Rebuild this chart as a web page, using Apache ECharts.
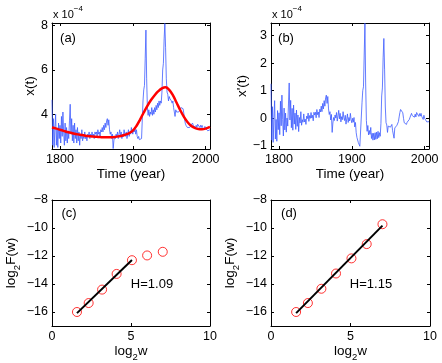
<!DOCTYPE html>
<html>
<head>
<meta charset="utf-8">
<script src="https://cdn.jsdelivr.net/npm/echarts@6/dist/echarts.min.js"></script>
<style>
  html, body { margin: 0; padding: 0; background: #fff; }
  #chart { width: 442px; height: 363px; }
</style>
</head>
<body>
<div id="chart"></div>
<script>
// x(t) series, annual, first year below (units of 1e-4)
var yearStart = 1789;
var xValues = [
  4.65, 2.6, 3.8, 2.5, 3.4, 4.0, 2.6, 3.3, 2.5, 3.6, 2.9,
  3.5, 2.7, 3.9, 3.0, 4.1, 3.2, 2.6, 3.6, 2.8, 3.4,
  2.7, 3.2, 2.9, 3.7, 4.45, 3.1, 3.8, 2.8, 3.5, 2.7,
  3.6, 2.9, 3.3, 2.7, 3.4, 2.8, 3.2, 2.6, 3.1, 2.9,
  3.3, 2.8, 3.0, 2.9, 3.2, 2.9, 3.0, 2.8, 3.1, 3.0,
  3.2, 2.9, 3.1, 3.0, 3.2, 3.0, 3.1, 2.9, 3.2, 3.1,
  3.2, 3.0, 3.3, 3.1, 3.2, 3.0, 3.3, 3.2, 3.4, 3.2,
  3.5, 3.3, 3.6, 3.4, 3.7, 3.8, 3.5, 3.75, 3.3, 3.1,
  3.2, 2.9, 3.1, 2.45, 2.8, 3.0, 2.9, 3.1, 3.0, 3.2,
  2.9, 3.1, 3.3, 3.0, 3.2, 2.9, 3.1, 3.0, 3.3, 3.1,
  3.0, 3.2, 2.9, 3.1, 3.3, 3.0, 3.2, 3.1, 3.4, 3.2,
  3.1, 3.3, 3.2, 3.4, 3.1, 3.3, 3.0, 2.9, 3.0, 2.85,
  2.9, 2.85, 2.9, 2.9, 4.6, 5.1, 5.3, 6.5, 7.8, 5.6,
  4.3, 3.95, 4.2, 3.9, 4.1, 4.0, 4.3, 3.95, 4.2, 4.0,
  4.3, 4.1, 4.4, 4.2, 4.5, 4.3, 4.6, 4.4, 4.6, 4.5,
  5.0, 6.0, 6.3, 7.4, 8.1, 7.0, 5.6, 5.0, 4.9, 4.6,
  4.8, 4.7, 4.7, 4.6, 4.5, 4.6, 4.3, 4.3, 3.9, 4.2,
  4.1, 4.1, 4.1, 4.1, 4.1, 4.2, 4.3, 4.35, 4.3, 4.25,
  4.05, 3.8, 3.6, 3.5, 3.5, 3.4, 3.45, 3.4, 3.4, 3.45,
  3.5, 3.5, 3.6, 3.5, 3.55, 3.5, 3.4, 3.5, 3.4, 3.55,
  3.5, 3.55, 3.4, 3.5, 3.4, 3.5, 3.4, 3.45, 3.3, 3.45,
  3.35, 3.4, 3.3, 3.25, 3.3, 3.25, 3.3
];

// smooth trend (red curve)
var trendYears = [1789, 1795, 1800, 1805, 1810, 1815, 1820, 1825, 1830, 1835, 1840, 1845,
  1850, 1855, 1860, 1865, 1870, 1875, 1880, 1885, 1890, 1895, 1900, 1905, 1910, 1915,
  1920, 1925, 1930, 1935, 1940, 1945, 1950, 1955, 1960, 1965, 1970, 1975, 1980, 1985,
  1990, 1995, 2000, 2006];
var trendValues = [3.40, 3.35, 3.30, 3.25, 3.20, 3.16, 3.12, 3.09, 3.06, 3.03, 3.01, 2.99,
  2.98, 2.97, 2.96, 2.96, 2.96, 2.97, 3.00, 3.03, 3.08, 3.15, 3.26, 3.47, 3.76, 4.08,
  4.38, 4.64, 4.86, 5.04, 5.17, 5.22, 5.10, 4.86, 4.53, 4.19, 3.89, 3.65, 3.48, 3.38,
  3.33, 3.32, 3.35, 3.43];

// x'(t) series, annual from yearStart
var xPrimeValues = [
  1.25, -0.79, 0.42, -0.87, 0.03, 0.64, -0.75, -0.04, -0.83, 0.28, -0.41,
  0.2, -0.59, 0.62, -0.27, 0.84, -0.05, -0.64, 0.37, -0.42, 0.19,
  -0.5, 0.01, -0.28, 0.52, 1.28, -0.06, 0.65, -0.34, 0.36, -0.43,
  0.48, -0.21, 0.19, -0.4, 0.3, -0.29, 0.12, -0.48, 0.03, -0.17,
  0.24, -0.25, -0.05, -0.14, 0.16, -0.13, -0.03, -0.22, 0.08, -0.01,
  0.19, -0.11, 0.1, 0.0, 0.21, 0.01, 0.11, -0.09, 0.22, 0.12,
  0.22, 0.02, 0.32, 0.13, 0.23, 0.03, 0.33, 0.23, 0.44, 0.24,
  0.54, 0.34, 0.64, 0.44, 0.74, 0.84, 0.54, 0.79, 0.34, 0.14,
  0.24, -0.06, 0.14, -0.51, -0.17, 0.03, -0.08, 0.12, 0.01, 0.21,
  -0.1, 0.09, 0.29, -0.02, 0.18, -0.13, 0.06, -0.05, 0.24, 0.03,
  -0.08, 0.11, -0.21, -0.02, 0.16, -0.15, 0.03, -0.09, 0.18, -0.04,
  -0.16, 0.0, -0.14, 0.03, -0.31, -0.15, -0.52, -0.69, -0.66, -0.88,
  -0.9, -1.01, -1.02, -1.08, 0.56, 1.0, 1.14, 2.29, 3.44, 1.28,
  -0.08, -0.47, -0.26, -0.6, -0.44, -0.58, -0.33, -0.73, -0.54, -0.79,
  -0.54, -0.78, -0.52, -0.76, -0.5, -0.74, -0.47, -0.7, -0.52, -0.65,
  -0.18, 0.81, 1.1, 2.19, 2.89, 1.78, 0.41, -0.16, -0.24, -0.51,
  -0.28, -0.33, -0.28, -0.32, -0.37, -0.22, -0.45, -0.38, -0.72, -0.35,
  -0.38, -0.31, -0.25, -0.18, -0.12, 0.05, 0.21, 0.32, 0.33, 0.34,
  0.2, 0.0, -0.16, -0.21, -0.17, -0.22, -0.14, -0.16, -0.12, -0.04,
  0.04, 0.06, 0.18, 0.1, 0.16, 0.13, 0.04, 0.15, 0.05, 0.21,
  0.17, 0.22, 0.07, 0.17, 0.08, 0.18, 0.07, 0.12, -0.04, 0.11,
  0.0, 0.04, -0.07, -0.13, -0.1, -0.16, -0.12
];

// fluctuation analysis points
var log2w = [1.58, 2.32, 3.17, 4.09, 5.06, 6.02, 7.01];
var log2F_c = [-16.0, -15.36, -14.4, -13.28, -12.3, -11.96, -11.7];
var log2F_d = [-16.0, -15.36, -14.34, -13.25, -12.17, -11.15, -9.73];
var fitX_c = [1.58, 5.06], fitY_c = [-16.08, -12.28];
var fitX_d = [1.58, 7.01], fitY_d = [-16.08, -9.83];

// tick labels
var yearTicks = [1800, 1900, 2000];
var xTicksA = [4, 6, 8];
var xTicksB = [-1, 0, 1, 2, 3];
var wTicks = [0, 5, 10];
var fTicks = [-16, -14, -12, -10, -8];

var FONT = "'Liberation Sans', Arial, Helvetica, sans-serif";
var AX = "#000";

function pairs(xs, ys) {
  return xs.map(function (x, i) { return [x, ys[i]]; });
}
function yearly(vals) {
  return vals.map(function (v, i) { return [yearStart + i, v]; });
}

function axis(grid, pos, min, max, ticks, main, name, nameGap) {
  return {
    type: "value", gridIndex: grid, position: pos, min: min, max: max,
    axisLine: { show: true, onZero: false, lineStyle: { color: AX, width: 1 } },
    axisTick: { show: true, inside: true, length: 3, customValues: ticks, lineStyle: { color: AX, width: 1 } },
    axisLabel: {
      show: main, customValues: ticks, margin: 4, fontSize: 12.5, color: "#000", fontFamily: FONT,
      formatter: function (v) { return String(v).replace("-", "\u2212"); }
    },
    splitLine: { show: false },
    name: main ? name : "", nameLocation: "middle", nameGap: nameGap,
    nameTextStyle: {
      fontSize: 13.5, color: "#000", fontFamily: FONT,
      rich: {
        m: { fontSize: 13.5, fontFamily: FONT, color: "#000" },
        s: { fontSize: 9.5, fontFamily: FONT, color: "#000", verticalAlign: "bottom", lineHeight: 22 }
      }
    }
  };
}

var grids = [
  { left: 52, top: 23, width: 158, height: 126 },
  { left: 271, top: 23, width: 158, height: 126 },
  { left: 52, top: 200, width: 158, height: 126 },
  { left: 271, top: 200, width: 159, height: 126 }
].map(function (g) { g.containLabel = false; g.outerBoundsMode = "none"; return g; });

var xAxes = [
  axis(0, "bottom", 1789, 2006, yearTicks, true, "Time (year)", 17),
  axis(0, "top", 1789, 2006, yearTicks, false),
  axis(1, "bottom", 1789, 2006, yearTicks, true, "Time (year)", 17),
  axis(1, "top", 1789, 2006, yearTicks, false),
  axis(2, "bottom", 0, 10, wTicks, true, "{m|log}{s|2}{m|w}", 9),
  axis(2, "top", 0, 10, wTicks, false),
  axis(3, "bottom", 0, 10, wTicks, true, "{m|log}{s|2}{m|w}", 9),
  axis(3, "top", 0, 10, wTicks, false)
];
var yAxes = [
  axis(0, "left", 2.43, 8.12, xTicksA, true, "x(t)", 13.5),
  axis(0, "right", 2.43, 8.12, xTicksA, false),
  axis(1, "left", -1.11, 3.45, xTicksB, true, "x'(t)", 13.5),
  axis(1, "right", -1.11, 3.45, xTicksB, false),
  axis(2, "left", -17, -8, fTicks, true, "{m|log}{s|2}{m|F(w)}", 30),
  axis(2, "right", -17, -8, fTicks, false),
  axis(3, "left", -17, -8, fTicks, true, "{m|log}{s|2}{m|F(w)}", 30),
  axis(3, "right", -17, -8, fTicks, false)
];

function label(x, y, text, size) {
  return {
    type: "text", x: x, y: y, silent: true,
    style: { text: text, fontSize: size || 13, fontFamily: FONT, fill: "#000", align: "center", verticalAlign: "middle" }
  };
}
function exponent(x, y) {
  return {
    type: "text", x: x, y: y, silent: true,
    style: {
      text: "{a|x 10}{p|\u22124}", fontFamily: FONT, fill: "#000", align: "left", verticalAlign: "middle",
      rich: {
        a: { fontSize: 11, fontFamily: FONT, fill: "#000" },
        p: { fontSize: 8, fontFamily: FONT, fill: "#000", verticalAlign: "top", lineHeight: 20 }
      }
    }
  };
}

var chart = echarts.init(document.getElementById("chart"), null, { renderer: "canvas" });
chart.setOption({
  animation: false,
  backgroundColor: "#fff",
  grid: grids,
  xAxis: xAxes,
  yAxis: yAxes,
  graphic: [
    exponent(53, 15), exponent(272, 15),
    label(68, 38, "(a)"), label(286, 38, "(b)"),
    label(69, 213, "(c)"), label(289, 213, "(d)"),
    label(152, 284, "H=1.09"), label(371, 284, "H=1.15")
  ],
  series: [
    { type: "line", xAxisIndex: 0, yAxisIndex: 0, data: yearly(xValues), showSymbol: false,
      lineStyle: { color: "#3d5cff", width: 0.8 } },
    { type: "line", xAxisIndex: 0, yAxisIndex: 0, data: pairs(trendYears, trendValues), showSymbol: false,
      smooth: 0.4, lineStyle: { color: "#ff0000", width: 2.5 } },
    { type: "line", xAxisIndex: 2, yAxisIndex: 2, data: yearly(xPrimeValues), showSymbol: false,
      lineStyle: { color: "#3d5cff", width: 0.8 } },
    { type: "line", xAxisIndex: 4, yAxisIndex: 4, data: pairs(fitX_c, fitY_c), showSymbol: false,
      lineStyle: { color: "#000", width: 2 } },
    { type: "scatter", xAxisIndex: 4, yAxisIndex: 4, data: pairs(log2w, log2F_c), symbol: "circle", symbolSize: 9,
      itemStyle: { color: "rgba(0,0,0,0)", borderColor: "#ff0000", borderWidth: 1 } },
    { type: "line", xAxisIndex: 6, yAxisIndex: 6, data: pairs(fitX_d, fitY_d), showSymbol: false,
      lineStyle: { color: "#000", width: 2 } },
    { type: "scatter", xAxisIndex: 6, yAxisIndex: 6, data: pairs(log2w, log2F_d), symbol: "circle", symbolSize: 9,
      itemStyle: { color: "rgba(0,0,0,0)", borderColor: "#ff0000", borderWidth: 1 } }
  ]
});
</script>
</body>
</html>
